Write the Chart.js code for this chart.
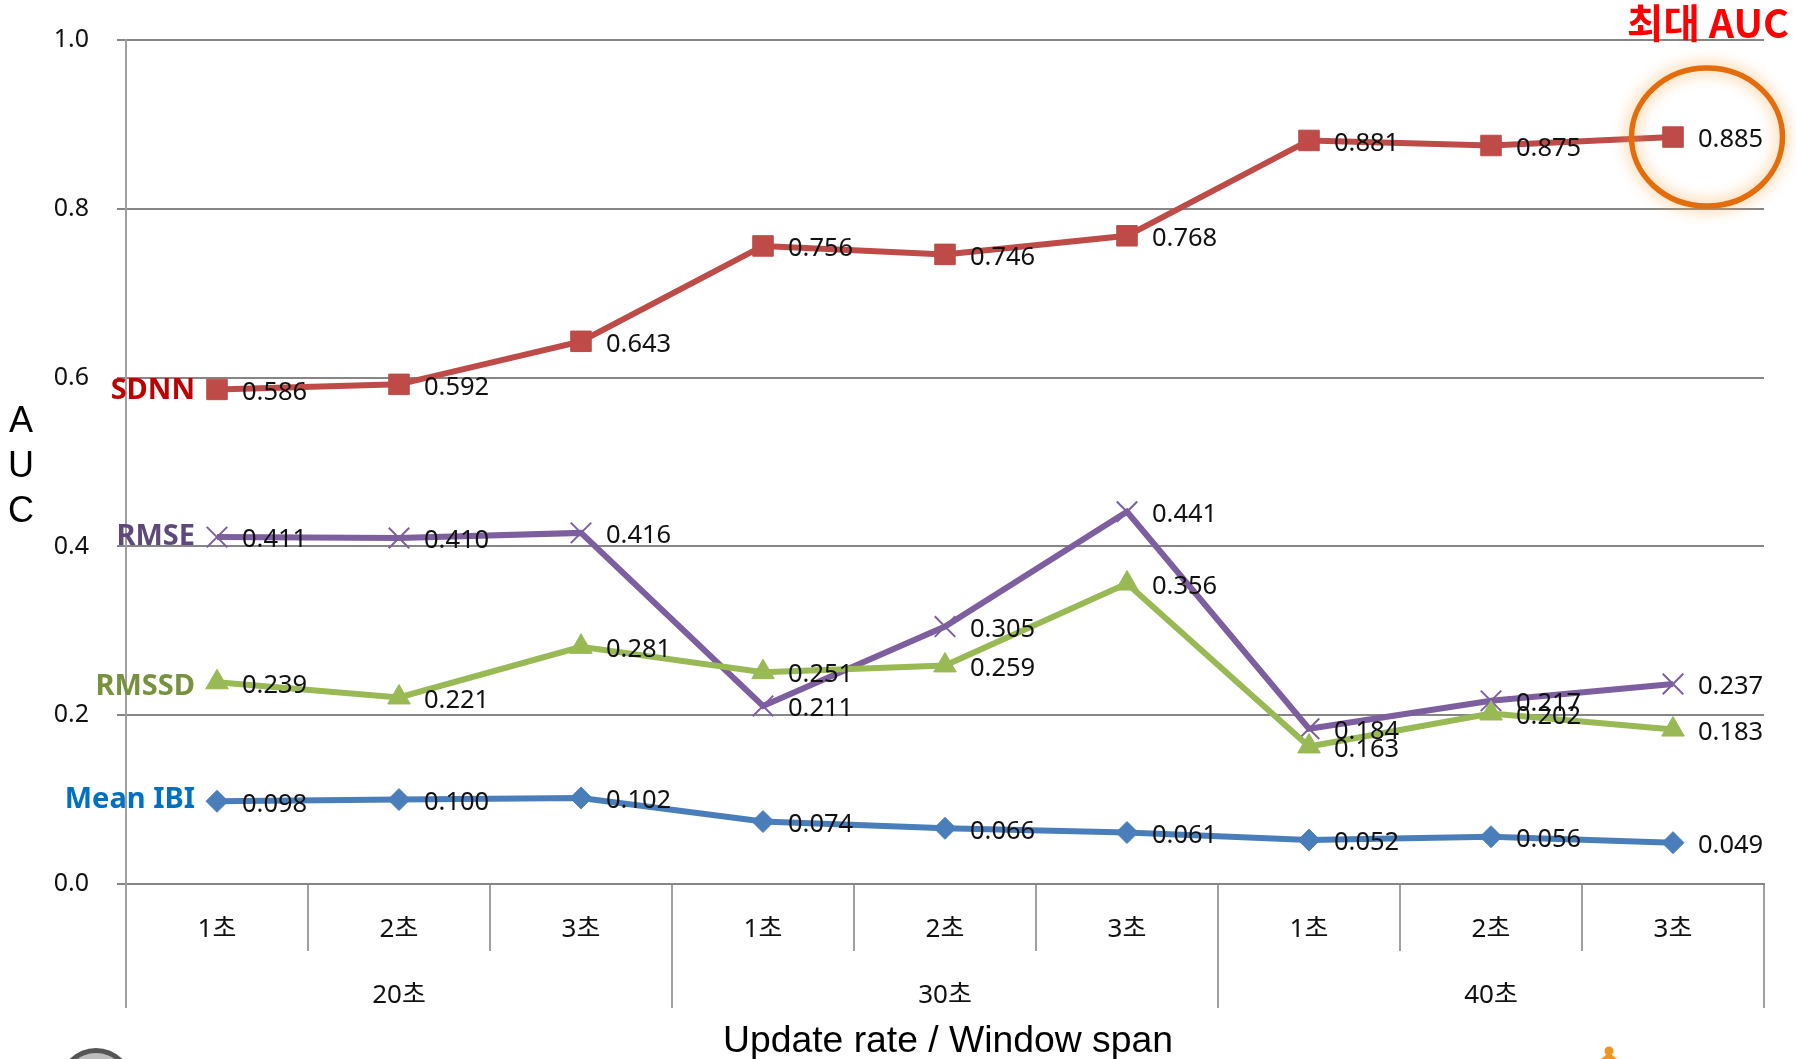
<!DOCTYPE html>
<html><head><meta charset="utf-8">
<style>html,body{margin:0;padding:0;background:#fff}canvas{display:block}</style>
<script src="https://cdn.jsdelivr.net/npm/chart.js@4"></script>
</head><body><canvas id="c" width="1796" height="1059"></canvas>
<script>
const windowLabels = ['1초','2초','3초','1초','2초','3초','1초','2초','3초'];
const spanLabels = ['20초','30초','40초'];
const meanIBI = [0.098,0.100,0.102,0.074,0.066,0.061,0.052,0.056,0.049];
const sdnn = [0.586,0.592,0.643,0.756,0.746,0.768,0.881,0.875,0.885];
const rmssd = [0.239,0.221,0.281,0.251,0.259,0.356,0.163,0.202,0.183];
const rmse = [0.411,0.410,0.416,0.211,0.305,0.441,0.184,0.217,0.237];
const KO = '"Noto Sans","Noto Sans CJK KR"';
const AR = '"Liberation Sans",Arial';
function ds(label,data,color,style,r,bw,textColor,nameDy){
  return {label,data,borderColor:color,backgroundColor:color,borderWidth:6,pointStyle:style,pointRadius:r,
    pointBorderColor:color,pointBackgroundColor:color,pointBorderWidth:bw,tension:0,fill:false,textColor,nameDy};
}
function noPad(s){s.paddingTop=0;s.paddingBottom=0;s.paddingLeft=0;s.paddingRight=0;}
const overlay = {
  id:'overlay',
  afterDatasetsDraw(chart){
    const c=chart.ctx,x=chart.scales.x,y=chart.scales.y;
    c.save();
    c.strokeStyle='#a0a0a0';c.lineWidth=2;
    const step=x.getPixelForValue(1)-x.getPixelForValue(0);
    spanLabels.forEach((s,i)=>{
      const left=x.getPixelForValue(i*3)-step/2, right=x.getPixelForValue(i*3+2)+step/2;
      c.beginPath();c.moveTo(left,950);c.lineTo(left,1008);c.stroke();
      if(i===spanLabels.length-1){c.beginPath();c.moveTo(right,950);c.lineTo(right,1008);c.stroke();}
      c.fillStyle='#111';c.font='26px '+KO;c.textAlign='center';c.textBaseline='middle';
      c.fillText(s,(left+right)/2,996);
    });
    chart.data.datasets.forEach(d=>{
      c.fillStyle='#111';c.font='25.5px '+KO;c.textAlign='left';c.textBaseline='middle';
      d.data.forEach((v,i)=>{
        c.fillText(v.toFixed(3),x.getPixelForValue(i)+25,y.getPixelForValue(v)+3);
      });
      c.fillStyle=d.textColor;c.font='bold 29px '+KO;c.textAlign='right';
      c.fillText(d.label,195,y.getPixelForValue(d.data[0])+d.nameDy);
    });
    const hx=x.getPixelForValue(8)+34, hy=y.getPixelForValue(Math.max(...sdnn));
    c.save();
    c.shadowColor='rgba(247,170,80,1)';c.shadowBlur=16;
    c.strokeStyle='#E46C0A';c.lineWidth=5.5;
    c.beginPath();c.ellipse(hx,hy,75.5,69,0,0,Math.PI*2);c.stroke();
    c.restore();
    c.fillStyle='#FF0000';c.font='bold 39.5px "Noto Sans CJK KR"';c.textAlign='center';c.textBaseline='middle';
    c.fillText('최대 AUC',1708,23);
    c.fillStyle='#000';c.font='37.3px '+AR;c.textAlign='center';
    c.fillText('Update rate / Window span',948,1042);
    c.font='36px '+AR;
    ['A','U','C'].forEach((t,i)=>c.fillText(t,21,422+i*45));
    c.fillStyle='#555';c.beginPath();c.arc(96,1085,37,0,Math.PI*2);c.fill();
    c.fillStyle='#bdbdbd';c.beginPath();c.arc(96,1085,32,0,Math.PI*2);c.fill();
    c.fillStyle='#F0961E';c.beginPath();c.arc(1609,1051,4.5,0,Math.PI*2);c.fill();
    c.beginPath();c.moveTo(1601,1059);c.lineTo(1617,1059);c.lineTo(1612,1055);c.lineTo(1606,1055);c.closePath();c.fill();
    c.restore();
  }
};
new Chart(document.getElementById('c'),{
  type:'line',
  data:{labels:windowLabels,datasets:[
    ds('Mean IBI',meanIBI,'#4A7EBB','rectRot',11,1,'#0070C0',-2),
    ds('SDNN',sdnn,'#BE4B48','rect',14.5,1,'#C00000',1),
    ds('RMSSD',rmssd,'#98B954','triangle',13,1,'#76923C',4),
    ds('RMSE',rmse,'#7D5FA0','crossRot',14.5,2,'#5F497A',0)
  ]},
  plugins:[overlay],
  options:{
    responsive:false,animation:false,devicePixelRatio:1,
    layout:{padding:{left:0,right:32,top:40,bottom:0}},
    plugins:{legend:{display:false},title:{display:false},tooltip:{enabled:false}},
    scales:{
      x:{type:'category',offset:true,
        afterFit(s){s.height=175;noPad(s);},
        grid:{display:true,drawOnChartArea:false,drawTicks:true,tickLength:67,color:'#a0a0a0',lineWidth:2,offset:true},
        border:{display:true,color:'#868686',width:2},
        ticks:{color:'#111',font:{family:KO,size:26},padding:-37,autoSkip:false,maxRotation:0,minRotation:0}
      },
      y:{min:0,max:1,
        afterFit(s){s.width=126;noPad(s);},
        grid:{color:'#868686',lineWidth:2,tickLength:9},
        border:{display:true,color:'#a0a0a0',width:2},
        ticks:{stepSize:0.2,color:'#111',font:{family:KO,size:25},padding:28,callback:v=>v.toFixed(1)}
      }
    }
  }
});
</script></body></html>
